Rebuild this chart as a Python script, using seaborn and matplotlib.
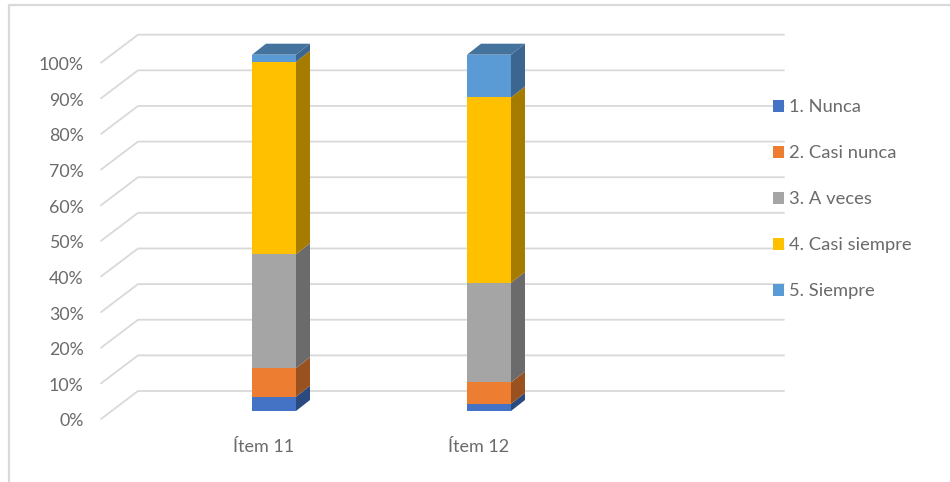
import matplotlib
matplotlib.use("Agg")
import matplotlib.pyplot as plt
from matplotlib.lines import Line2D
from matplotlib.patches import Patch
from matplotlib.transforms import ScaledTranslation
import numpy as np
import pandas as pd
import seaborn as sns

items = ["Ítem 11", "Ítem 12"]
series = ["1. Nunca", "2. Casi nunca", "3. A veces", "4. Casi siempre", "5. Siempre"]
nunca = [4, 2]
casi_nunca = [8, 6]
a_veces = [32, 28]
casi_siempre = [54, 52]
siempre = [2, 12]
y_ticks = [0, 10, 20, 30, 40, 50, 60, 70, 80, 90, 100]

front = ["#4472C4", "#ED7D31", "#A5A5A5", "#FFC000", "#5B9BD5"]
side = ["#2B4A80", "#9A5120", "#6B6B6B", "#A67C00", "#3C6690"]
top_color = "#44739E"
grid_color = "#D9D9D9"
text_color = "#6A6A6A"

sns.set_theme(style="white")
plt.rcParams["font.family"] = ["Lato", "DejaVu Sans"]

W, H = 950, 482
fig = plt.figure(figsize=(W / 100, H / 100), dpi=100)

# axes box is the front plane of the 3d chart, in pixels of the reference
left, right, y_top, y_bot = 101, 751, 54.7, 411
ax = fig.add_axes([left / W, 1 - y_bot / H, (right - left) / W, (y_bot - y_top) / H])

values = np.array([nunca, casi_nunca, a_veces, casi_siempre, siempre], dtype=float)
cum = values.cumsum(axis=0)

# stacked: tallest total first, the smaller ones painted over it
for i in range(len(series) - 1, -1, -1):
    df = pd.DataFrame({"item": items, "total": cum[i]})
    sns.barplot(data=df, x="item", y="total", color=front[i], saturation=1,
                width=44 / 215, linewidth=0, errorbar=None, ax=ax)

ax.set_xlim((left - 274) / 215, (right - 274) / 215)
ax.set_ylim(0, 100)
ax.set_xlabel("")
ax.set_ylabel("")

px_x = 1 / 215
px_y = 100 / (y_bot - y_top)

# back wall grid and the diagonals on the left wall
wall_dx, wall_dy = 37 * px_x, 28 * px_y
start_dy = -8 * px_y
for v in y_ticks:
    xs = [ax.get_xlim()[0], ax.get_xlim()[0] + wall_dx, (784 - 274) * px_x]
    ys = [v + start_dy, v + start_dy + wall_dy, v + start_dy + wall_dy]
    ax.add_line(Line2D(xs, ys, color=grid_color, lw=1.3, zorder=0.5, clip_on=False))

# depth of the bars
dx, dy = 14 * px_x, 11 * px_y
half = 22 * px_x
for j in range(len(items)):
    xl, xr = j - half, j + half
    for i in range(len(series)):
        b = cum[i - 1][j] if i > 0 else 0
        t = cum[i][j]
        ax.fill([xr, xr + dx, xr + dx, xr], [b, b + dy, t + dy, t],
                color=side[i], lw=0, zorder=1.5, clip_on=False)
    T = cum[-1][j]
    ax.fill([xl, xr, xr + dx, xl + dx], [T, T, T + dy, T + dy],
            color=top_color, lw=0, zorder=1.5, clip_on=False)

ax.set_yticks(y_ticks)
ax.set_yticklabels([f"{v}%" for v in y_ticks])
ax.tick_params(axis="y", length=0, pad=12.5, labelsize=12.8, labelcolor=text_color)
ax.tick_params(axis="x", length=0, pad=20, labelsize=13, labelcolor=text_color)
for lab in ax.get_yticklabels():
    lab.set_transform(lab.get_transform() + ScaledTranslation(0, -9 / 100, fig.dpi_scale_trans))
for lab in ax.get_xticklabels():
    lab.set_transform(lab.get_transform() + ScaledTranslation(-10 / 100, 0, fig.dpi_scale_trans))
sns.despine(ax=ax, left=True, bottom=True)
ax.patch.set_alpha(0)

handles = [Patch(facecolor=c, edgecolor="none", label=s) for c, s in zip(front, series)]
fig.legend(handles=handles, loc="upper left", bbox_to_anchor=(769 / W, 1 - 95.5 / H),
           frameon=False, fontsize=13.2, labelcolor=text_color, labelspacing=1.64,
           handlelength=0.6, handleheight=0.6, handletextpad=0.3,
           borderpad=0.2, borderaxespad=0)

# grey frame of the pasted picture
fig.add_artist(Line2D([8.5 / W, 8.5 / W, 1], [0, 1 - 5 / H, 1 - 5 / H],
                      color="#D9D9D9", lw=1.6, transform=fig.transFigure))

fig.savefig("out.png", dpi=100)
